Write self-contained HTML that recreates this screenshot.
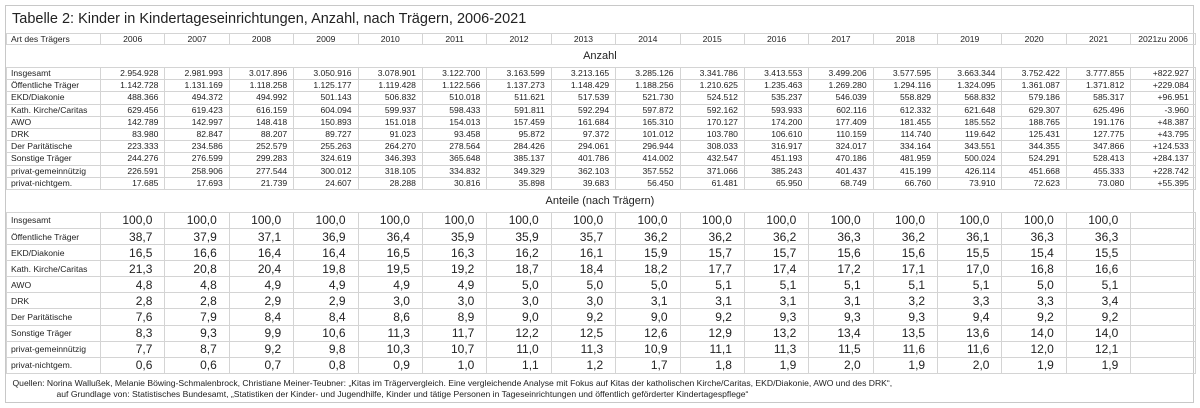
<!DOCTYPE html>
<html><head><meta charset="utf-8"><style>
body{margin:0;width:1200px;height:408px;background:#fff;font-family:"Liberation Sans",sans-serif;color:#222;overflow:hidden}
.wrap{position:absolute;left:5px;top:5px;width:1189px;height:398px;border:1px solid #c8c8c8;box-sizing:border-box}
.title{position:absolute;left:6px;top:5px;font-size:14.5px;color:#222}
table{position:absolute;left:0;top:27px;border-collapse:collapse;table-layout:fixed;width:1189px}
td{border:1px solid #d4d4d4;padding:0 6px;white-space:nowrap;overflow:hidden;font-size:8.6px;text-align:right;box-sizing:border-box}
td:first-child{text-align:left;padding-left:4px}
tr.h td{height:11px;text-align:center;font-size:8.6px;line-height:10px}
tr.h td:first-child{text-align:left}
tr.s td{height:23px;text-align:center;font-size:11px;border-left:none;border-right:none}
tr.a td{height:12.2px;line-height:11px}
tr.p td{height:16.1px;font-size:12px;padding-right:12px;line-height:14px}
tr.p td:first-child{font-size:8.6px}
tr.f td{height:31px;text-align:left;font-size:8.6px;line-height:11px;padding-left:6px;border:none}
</style></head><body><div class="wrap">
<div class="title">Tabelle 2: Kinder in Kindertageseinrichtungen, Anzahl, nach Trägern, 2006-2021</div>
<table>
<colgroup><col style="width:94px"><col span="16" style="width:64.4px"><col style="width:64.6px"></colgroup>
<tr class="h"><td>Art des Trägers</td><td>2006</td><td>2007</td><td>2008</td><td>2009</td><td>2010</td><td>2011</td><td>2012</td><td>2013</td><td>2014</td><td>2015</td><td>2016</td><td>2017</td><td>2018</td><td>2019</td><td>2020</td><td>2021</td><td>2021zu 2006</td></tr>
<tr class="s"><td colspan="18" style="text-align:center">Anzahl</td></tr>
<tr class="a"><td>Insgesamt</td><td>2.954.928</td><td>2.981.993</td><td>3.017.896</td><td>3.050.916</td><td>3.078.901</td><td>3.122.700</td><td>3.163.599</td><td>3.213.165</td><td>3.285.126</td><td>3.341.786</td><td>3.413.553</td><td>3.499.206</td><td>3.577.595</td><td>3.663.344</td><td>3.752.422</td><td>3.777.855</td><td>+822.927</td></tr>
<tr class="a"><td>Öffentliche Träger</td><td>1.142.728</td><td>1.131.169</td><td>1.118.258</td><td>1.125.177</td><td>1.119.428</td><td>1.122.566</td><td>1.137.273</td><td>1.148.429</td><td>1.188.256</td><td>1.210.625</td><td>1.235.463</td><td>1.269.280</td><td>1.294.116</td><td>1.324.095</td><td>1.361.087</td><td>1.371.812</td><td>+229.084</td></tr>
<tr class="a"><td>EKD/Diakonie</td><td>488.366</td><td>494.372</td><td>494.992</td><td>501.143</td><td>506.832</td><td>510.018</td><td>511.621</td><td>517.539</td><td>521.730</td><td>524.512</td><td>535.237</td><td>546.039</td><td>558.829</td><td>568.832</td><td>579.186</td><td>585.317</td><td>+96.951</td></tr>
<tr class="a"><td>Kath. Kirche/Caritas</td><td>629.456</td><td>619.423</td><td>616.159</td><td>604.094</td><td>599.937</td><td>598.433</td><td>591.811</td><td>592.294</td><td>597.872</td><td>592.162</td><td>593.933</td><td>602.116</td><td>612.332</td><td>621.648</td><td>629.307</td><td>625.496</td><td>-3.960</td></tr>
<tr class="a"><td>AWO</td><td>142.789</td><td>142.997</td><td>148.418</td><td>150.893</td><td>151.018</td><td>154.013</td><td>157.459</td><td>161.684</td><td>165.310</td><td>170.127</td><td>174.200</td><td>177.409</td><td>181.455</td><td>185.552</td><td>188.765</td><td>191.176</td><td>+48.387</td></tr>
<tr class="a"><td>DRK</td><td>83.980</td><td>82.847</td><td>88.207</td><td>89.727</td><td>91.023</td><td>93.458</td><td>95.872</td><td>97.372</td><td>101.012</td><td>103.780</td><td>106.610</td><td>110.159</td><td>114.740</td><td>119.642</td><td>125.431</td><td>127.775</td><td>+43.795</td></tr>
<tr class="a"><td>Der Paritätische</td><td>223.333</td><td>234.586</td><td>252.579</td><td>255.263</td><td>264.270</td><td>278.564</td><td>284.426</td><td>294.061</td><td>296.944</td><td>308.033</td><td>316.917</td><td>324.017</td><td>334.164</td><td>343.551</td><td>344.355</td><td>347.866</td><td>+124.533</td></tr>
<tr class="a"><td>Sonstige Träger</td><td>244.276</td><td>276.599</td><td>299.283</td><td>324.619</td><td>346.393</td><td>365.648</td><td>385.137</td><td>401.786</td><td>414.002</td><td>432.547</td><td>451.193</td><td>470.186</td><td>481.959</td><td>500.024</td><td>524.291</td><td>528.413</td><td>+284.137</td></tr>
<tr class="a"><td>privat-gemeinnützig</td><td>226.591</td><td>258.906</td><td>277.544</td><td>300.012</td><td>318.105</td><td>334.832</td><td>349.329</td><td>362.103</td><td>357.552</td><td>371.066</td><td>385.243</td><td>401.437</td><td>415.199</td><td>426.114</td><td>451.668</td><td>455.333</td><td>+228.742</td></tr>
<tr class="a"><td>privat-nichtgem.</td><td>17.685</td><td>17.693</td><td>21.739</td><td>24.607</td><td>28.288</td><td>30.816</td><td>35.898</td><td>39.683</td><td>56.450</td><td>61.481</td><td>65.950</td><td>68.749</td><td>66.760</td><td>73.910</td><td>72.623</td><td>73.080</td><td>+55.395</td></tr>
<tr class="s"><td colspan="18" style="text-align:center">Anteile (nach Trägern)</td></tr>
<tr class="p"><td>Insgesamt</td><td>100,0</td><td>100,0</td><td>100,0</td><td>100,0</td><td>100,0</td><td>100,0</td><td>100,0</td><td>100,0</td><td>100,0</td><td>100,0</td><td>100,0</td><td>100,0</td><td>100,0</td><td>100,0</td><td>100,0</td><td>100,0</td><td></td></tr>
<tr class="p"><td>Öffentliche Träger</td><td>38,7</td><td>37,9</td><td>37,1</td><td>36,9</td><td>36,4</td><td>35,9</td><td>35,9</td><td>35,7</td><td>36,2</td><td>36,2</td><td>36,2</td><td>36,3</td><td>36,2</td><td>36,1</td><td>36,3</td><td>36,3</td><td></td></tr>
<tr class="p"><td>EKD/Diakonie</td><td>16,5</td><td>16,6</td><td>16,4</td><td>16,4</td><td>16,5</td><td>16,3</td><td>16,2</td><td>16,1</td><td>15,9</td><td>15,7</td><td>15,7</td><td>15,6</td><td>15,6</td><td>15,5</td><td>15,4</td><td>15,5</td><td></td></tr>
<tr class="p"><td>Kath. Kirche/Caritas</td><td>21,3</td><td>20,8</td><td>20,4</td><td>19,8</td><td>19,5</td><td>19,2</td><td>18,7</td><td>18,4</td><td>18,2</td><td>17,7</td><td>17,4</td><td>17,2</td><td>17,1</td><td>17,0</td><td>16,8</td><td>16,6</td><td></td></tr>
<tr class="p"><td>AWO</td><td>4,8</td><td>4,8</td><td>4,9</td><td>4,9</td><td>4,9</td><td>4,9</td><td>5,0</td><td>5,0</td><td>5,0</td><td>5,1</td><td>5,1</td><td>5,1</td><td>5,1</td><td>5,1</td><td>5,0</td><td>5,1</td><td></td></tr>
<tr class="p"><td>DRK</td><td>2,8</td><td>2,8</td><td>2,9</td><td>2,9</td><td>3,0</td><td>3,0</td><td>3,0</td><td>3,0</td><td>3,1</td><td>3,1</td><td>3,1</td><td>3,1</td><td>3,2</td><td>3,3</td><td>3,3</td><td>3,4</td><td></td></tr>
<tr class="p"><td>Der Paritätische</td><td>7,6</td><td>7,9</td><td>8,4</td><td>8,4</td><td>8,6</td><td>8,9</td><td>9,0</td><td>9,2</td><td>9,0</td><td>9,2</td><td>9,3</td><td>9,3</td><td>9,3</td><td>9,4</td><td>9,2</td><td>9,2</td><td></td></tr>
<tr class="p"><td>Sonstige Träger</td><td>8,3</td><td>9,3</td><td>9,9</td><td>10,6</td><td>11,3</td><td>11,7</td><td>12,2</td><td>12,5</td><td>12,6</td><td>12,9</td><td>13,2</td><td>13,4</td><td>13,5</td><td>13,6</td><td>14,0</td><td>14,0</td><td></td></tr>
<tr class="p"><td>privat-gemeinnützig</td><td>7,7</td><td>8,7</td><td>9,2</td><td>9,8</td><td>10,3</td><td>10,7</td><td>11,0</td><td>11,3</td><td>10,9</td><td>11,1</td><td>11,3</td><td>11,5</td><td>11,6</td><td>11,6</td><td>12,0</td><td>12,1</td><td></td></tr>
<tr class="p"><td>privat-nichtgem.</td><td>0,6</td><td>0,6</td><td>0,7</td><td>0,8</td><td>0,9</td><td>1,0</td><td>1,1</td><td>1,2</td><td>1,7</td><td>1,8</td><td>1,9</td><td>2,0</td><td>1,9</td><td>2,0</td><td>1,9</td><td>1,9</td><td></td></tr>
<tr class="f"><td colspan="18">Quellen: Norina Wallußek, Melanie Böwing-Schmalenbrock, Christiane Meiner-Teubner: „Kitas im Trägervergleich. Eine vergleichende Analyse mit Fokus auf Kitas der katholischen Kirche/Caritas, EKD/Diakonie, AWO und des DRK“,<br><span style="padding-left:44px">auf Grundlage von: Statistisches Bundesamt, „Statistiken der Kinder- und Jugendhilfe, Kinder und tätige Personen in Tageseinrichtungen und öffentlich geförderter Kindertagespflege“</span></td></tr>
</table></div></body></html>
